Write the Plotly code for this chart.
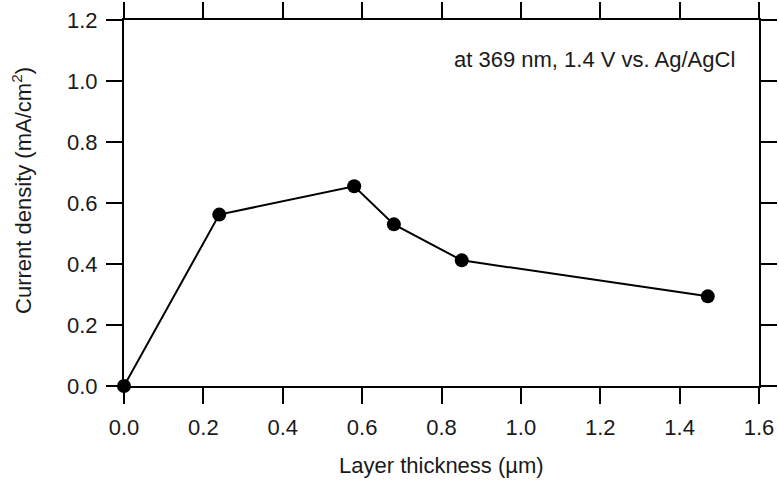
import plotly.graph_objects as go

thickness_um = [0.0, 0.24, 0.58, 0.68, 0.851, 1.471]
current_density = [0.0, 0.562, 0.655, 0.530, 0.412, 0.294]

x_ticks = [0.0, 0.2, 0.4, 0.6, 0.8, 1.0, 1.2, 1.4, 1.6]
y_ticks = [0.0, 0.2, 0.4, 0.6, 0.8, 1.0, 1.2]

FONT = "Liberation Sans, Arial, sans-serif"
TXT = "#1a1a1a"
FS = 22

fig = go.Figure()
fig.add_trace(go.Scatter(
    x=thickness_um, y=current_density,
    mode="lines+markers",
    line=dict(color="black", width=2),
    marker=dict(color="black", size=14),
    cliponaxis=False,
    showlegend=False,
))

axis_common = dict(
    showline=True, linecolor="black", linewidth=2,
    mirror="ticks", ticks="outside", ticklen=16, tickwidth=2, tickcolor="black",
    showgrid=False, zeroline=False, automargin=False,
    tickfont=dict(family=FONT, size=FS, color=TXT),
)

fig.update_xaxes(
    range=[0, 1.6], tickvals=x_ticks, ticktext=[f"{v:.1f}" for v in x_ticks],
    ticklabelstandoff=5,
    **axis_common,
)
fig.update_yaxes(
    range=[0, 1.2], tickvals=y_ticks, ticktext=[f"{v:.1f}" for v in y_ticks],
    ticklabelstandoff=4,
    **axis_common,
)

# axis titles
fig.add_annotation(
    x=0.5, y=0, xref="paper", yref="paper", yshift=-79,
    text="Layer thickness (µm)", showarrow=False,
    xanchor="center", yanchor="middle",
    font=dict(family=FONT, size=FS, color=TXT),
)
fig.add_annotation(
    x=0, y=0.533, xref="paper", yref="paper", xshift=-102,
    text="Current density (mA/cm<sup>2</sup>)", showarrow=False, textangle=-90,
    xanchor="center", yanchor="middle",
    font=dict(family=FONT, size=FS, color=TXT),
)

fig.add_annotation(
    x=0.965, y=0.893, xref="paper", yref="paper",
    text="at 369 nm, 1.4 V vs. Ag/AgCl",
    showarrow=False, xanchor="right", yanchor="middle",
    font=dict(family=FONT, size=FS, color=TXT),
)

fig.update_layout(
    width=779, height=482,
    margin=dict(l=124, r=20, t=20, b=96),
    paper_bgcolor="white", plot_bgcolor="white",
)

fig.write_html("out.html")
